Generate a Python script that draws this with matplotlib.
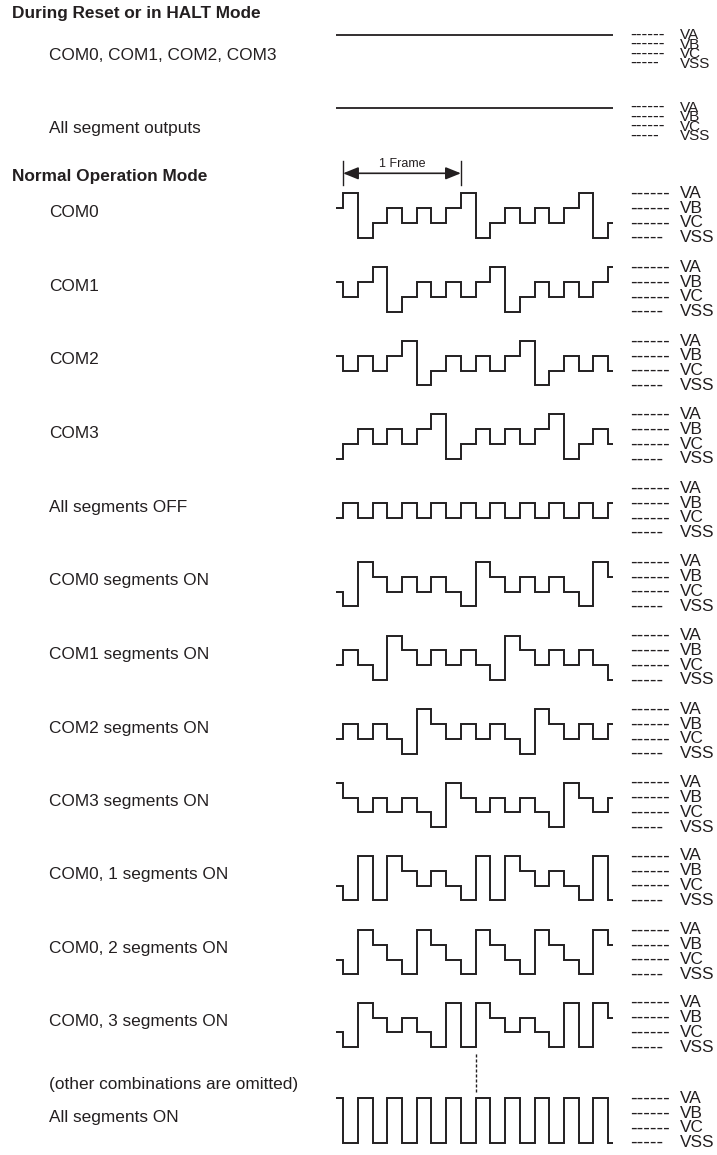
import matplotlib
matplotlib.use("Agg")
import matplotlib.pyplot as plt

plt.rcParams["font.family"] = ["Liberation Sans", "DejaVu Sans"]

W, H = 717, 1155
INK = "#231f20"

# drive levels, index 0..3
level_names = ["VSS", "VC", "VB", "VA"]

# one value for the lead-in half slot, then slots 0..18
com0 = [2, 3, 0, 1, 2, 1, 2, 1, 2, 3, 0, 1, 2, 1, 2, 1, 2, 3, 0, 1]
com1 = [2, 1, 2, 3, 0, 1, 2, 1, 2, 1, 2, 3, 0, 1, 2, 1, 2, 1, 2, 3]
com2 = [2, 1, 2, 1, 2, 3, 0, 1, 2, 1, 2, 1, 2, 3, 0, 1, 2, 1, 2, 1]
com3 = [0, 1, 2, 1, 2, 1, 2, 3, 0, 1, 2, 1, 2, 1, 2, 3, 0, 1, 2, 1]
seg_all_off = [1, 2, 1, 2, 1, 2, 1, 2, 1, 2, 1, 2, 1, 2, 1, 2, 1, 2, 1, 2]
seg_com0_on = [1, 0, 3, 2, 1, 2, 1, 2, 1, 0, 3, 2, 1, 2, 1, 2, 1, 0, 3, 2]
seg_com1_on = [1, 2, 1, 0, 3, 2, 1, 2, 1, 2, 1, 0, 3, 2, 1, 2, 1, 2, 1, 0]
seg_com2_on = [1, 2, 1, 2, 1, 0, 3, 2, 1, 2, 1, 2, 1, 0, 3, 2, 1, 2, 1, 2]
seg_com3_on = [3, 2, 1, 2, 1, 2, 1, 0, 3, 2, 1, 2, 1, 2, 1, 0, 3, 2, 1, 2]
seg_com01_on = [1, 0, 3, 0, 3, 2, 1, 2, 1, 0, 3, 0, 3, 2, 1, 2, 1, 0, 3, 0]
seg_com02_on = [1, 0, 3, 2, 1, 0, 3, 2, 1, 0, 3, 2, 1, 0, 3, 2, 1, 0, 3, 2]
seg_com03_on = [1, 0, 3, 2, 1, 2, 1, 0, 3, 0, 3, 2, 1, 2, 1, 0, 3, 0, 3, 2]
seg_all_on = [3, 0, 3, 0, 3, 0, 3, 0, 3, 0, 3, 0, 3, 0, 3, 0, 3, 0, 3, 0]

row_labels = [
    "COM0", "COM1", "COM2", "COM3", "All segments OFF",
    "COM0 segments ON", "COM1 segments ON", "COM2 segments ON",
    "COM3 segments ON", "COM0, 1 segments ON", "COM0, 2 segments ON",
    "COM0, 3 segments ON", "All segments ON",
]
row_waves = [
    com0, com1, com2, com3, seg_all_off, seg_com0_on, seg_com1_on,
    seg_com2_on, seg_com3_on, seg_com01_on, seg_com02_on, seg_com03_on,
    seg_all_on,
]

reset_labels = ["COM0, COM1, COM2, COM3", "All segment outputs"]
reset_level = 3
frame_slots = 8
marker_slot = 9

# ---- layout (pixels) ----
X_START = 335.7          # left edge of the lead-in half slot
SLOT = 14.73             # width of one time slot
T0, T1 = -0.5, 18.35     # time range shown
GAP = 14.8               # vertical distance between two levels
RESET_GAP = 9.6
row_top = [193.3, 267.3, 341.0, 414.5, 488.2, 562.0, 635.5, 709.3,
           782.7, 856.0, 930.0, 1002.7, 1098.3]
reset_top = [35.0, 107.5]
LABEL_X = 49
FS = 12.4

fig = plt.figure(figsize=(W / 100, H / 100), dpi=100)
bg = fig.add_axes([0, 0, 1, 1])
bg.set_xlim(0, W)
bg.set_ylim(H, 0)
bg.axis("off")


def wave_axes(y_top, gap):
    """Axes whose x axis is time in slots and y axis is the drive level."""
    width = (T1 - T0) * SLOT
    height = 3 * gap
    ax = fig.add_axes([X_START / W, 1 - (y_top + height) / H,
                       width / W, height / H])
    ax.set_xlim(T0, T1)
    ax.set_ylim(0, 3)
    ax.axis("off")
    return ax


def level_labels(y_top, gap, fs):
    for k, name in enumerate(reversed(level_names)):
        dash = "-----" if name == "VSS" else "------"
        bg.text(630, y_top + k * gap, dash, fontsize=fs * 1.15,
                color=INK, va="center", ha="left")
        bg.text(680, y_top + k * gap, name, fontsize=fs, color=INK,
                va="center", ha="left")


edges = [T0] + list(range(0, 19)) + [T1]

# headers
bg.text(12, 13.5, "During Reset or in HALT Mode", fontsize=FS,
        fontweight="bold", color=INK, va="center")
bg.text(12, 177, "Normal Operation Mode", fontsize=FS,
        fontweight="bold", color=INK, va="center")

# reset / HALT rows
for lab, y_top, ly in zip(reset_labels, reset_top, [55, 128]):
    ax = wave_axes(y_top, RESET_GAP)
    ax.plot([T0, T1], [reset_level, reset_level], color=INK, lw=1.3,
            clip_on=False, solid_capstyle="butt")
    bg.text(LABEL_X, ly, lab, fontsize=FS, color=INK, va="center")
    level_labels(y_top, RESET_GAP, 11.0)

# normal operation rows
axes = []
for lab, wave, y_top in zip(row_labels, row_waves, row_top):
    ax = wave_axes(y_top, GAP)
    ax.stairs(wave, edges, baseline=None, color=INK, lw=1.4,
              clip_on=False)
    bg.text(LABEL_X, y_top + 19, lab, fontsize=FS, color=INK, va="center")
    level_labels(y_top, GAP, FS)
    axes.append(ax)

bg.text(LABEL_X, 1085, "(other combinations are omitted)", fontsize=FS,
        color=INK, va="center")

# frame marker above COM0
ax0 = axes[0]
arrow_y = 3 + 20 / GAP
ax0.annotate("", xy=(frame_slots, arrow_y), xytext=(0, arrow_y),
             arrowprops=dict(arrowstyle="<|-|>,head_length=0.42,head_width=0.17",
                             mutation_scale=22, color=INK, lw=1.2,
                             shrinkA=0, shrinkB=0),
             annotation_clip=False)
for t in (0, frame_slots):
    ax0.plot([t, t], [3 + 8 / GAP, 3 + 32 / GAP], color=INK, lw=1.0,
             clip_on=False)
ax0.text(frame_slots / 2, 3 + 29 / GAP, "1 Frame", fontsize=9, color=INK,
         ha="center", va="center")

# dashed marker between the last two rows
ax_last = axes[-1]
ax_last.plot([marker_slot, marker_slot], [3 + 6 / GAP, 3 + 45 / GAP],
             color=INK, lw=1.0, linestyle=(0, (2.2, 1.4)), clip_on=False)

fig.savefig("out.png", dpi=100)
